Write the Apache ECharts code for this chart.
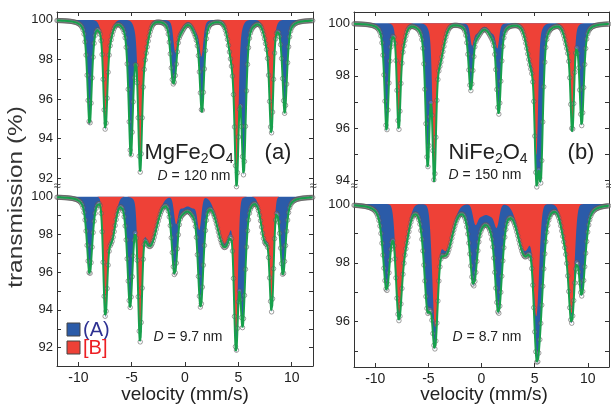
<!DOCTYPE html>
<html>
<head>
<meta charset="utf-8">
<script src="https://cdn.jsdelivr.net/npm/echarts@6/dist/echarts.min.js"></script>
<style>
  html, body { margin: 0; padding: 0; background: #ffffff; }
  #chart { width: 611px; height: 406px; }
</style>
</head>
<body>
<div id="chart"></div>
<script>
// Mössbauer spectra of ferrite samples: A-site and [B]-site sextets.
// A-site lines (pseudo-Voigt): [velocity mm/s, absorption depth %, FWHM mm/s]
// B-site lines (core + tail): [velocity, depth, FWHM, tail velocity, tail depth, tail FWHM]

// MgFe2O4, D = 120 nm
const mg120A = [[-8.94, 5.3, 0.50], [-5.08, 6.8, 0.50], [-1.18, 2.45, 0.50], [1.62, 2.9, 0.50], [5.50, 7.55, 0.50], [9.35, 4.7, 0.50]];
const mg120B = [[-7.47, 3.9, 0.38, -7.35, 1.6, 0.9], [-4.21, 5.4, 0.38, -4.00, 2.2, 1.0], [-0.92, 1.2, 0.38, -0.60, 0.6, 1.0],
                [1.55, 1.3, 0.38, 1.25, 0.7, 1.0], [4.84, 5.77, 0.38, 4.60, 2.4, 1.0], [8.10, 4.2, 0.38, 7.90, 1.6, 0.9]];

// NiFe2O4, D = 150 nm
const ni150A = [[-8.93, 4.1, 0.48], [-5.07, 5.29, 0.48], [-1.06, 1.95, 0.48], [1.66, 2.8, 0.48], [5.58, 5.56, 0.48], [9.43, 3.87, 0.48]];
const ni150B = [[-7.80, 3.0, 0.36, -7.60, 1.1, 0.8], [-4.45, 4.4, 0.36, -4.10, 1.6, 1.1], [-0.90, 0.6, 0.36, -0.50, 0.4, 1.0],
                [1.50, 0.7, 0.36, 1.10, 0.4, 1.0], [5.17, 3.84, 0.36, 4.80, 1.6, 1.1], [8.55, 3.08, 0.36, 8.30, 1.1, 0.9]];

// MgFe2O4, D = 9.7 nm
const mg97A = [[-8.94, 4.1, 0.60], [-5.15, 5.8, 0.60], [-1.05, 3.13, 0.60], [1.53, 4.6, 0.60], [5.40, 6.81, 0.60], [9.19, 4.14, 0.60]];
const mg97B = [[-7.48, 5.32, 0.42, -6.95, 2.3, 0.9], [-4.22, 6.46, 0.42, -3.30, 2.5, 1.5], [-0.85, 1.2, 0.42, -0.30, 0.6, 1.0],
               [1.35, 1.5, 0.42, 0.80, 0.6, 1.0], [4.78, 6.69, 0.42, 3.70, 2.5, 1.5], [8.13, 5.11, 0.42, 7.55, 2.3, 0.9]];

// NiFe2O4, D = 8.7 nm
const ni87A = [[-8.93, 2.92, 0.80], [-5.07, 3.51, 0.80], [-0.82, 2.25, 0.80], [1.66, 3.13, 0.80], [5.58, 2.95, 0.80], [9.43, 3.09, 0.80]];
const ni87B = [[-7.80, 2.98, 0.60, -7.30, 1.4, 1.0], [-4.38, 3.68, 0.60, -3.40, 1.6, 1.5], [-0.60, 0.5, 0.50, -0.10, 0.4, 1.0],
               [1.45, 0.6, 0.50, 0.95, 0.4, 1.0], [5.17, 3.42, 0.60, 4.10, 1.6, 1.5], [8.50, 3.03, 0.60, 8.00, 1.3, 1.0]];

// Axis ticks and labels
const xTickValues = [-10, -5, 0, 5, 10];
const yLabelsMg120 = [92, 94, 96, 98, 100];
const yLabelsNi150 = [94, 96, 98, 100];
const yLabelsMg97 = [92, 94, 96, 98, 100];
const yLabelsNi87 = [96, 98, 100];
const yTicksMg120 = [92, 93, 94, 95, 96, 97, 98, 99, 100];
const yTicksNi150 = [94, 95, 96, 97, 98, 99, 100];
const yTicksMg97 = [92, 93, 94, 95, 96, 97, 98, 99, 100];
const yTicksNi87 = [95, 96, 97, 98, 99, 100];

const BASELINE = 100;
const LORENTZ_SHARE = 0.6;
const BLUE = '#2b5ba8';
const RED = '#ee4137';
const GREEN = '#17a04c';
const AXIS = '#333333';
const FONT = 'Liberation Sans, Arial, Helvetica, sans-serif';

function lorentz(v, c, d, w) { const t = 2 * (v - c) / w; return d / (1 + t * t); }
function gauss(v, c, d, w) { const t = (v - c) / w; return d * Math.exp(-4 * Math.LN2 * t * t); }
function voigtLike(v, c, d, w) { return LORENTZ_SHARE * lorentz(v, c, d, w) + (1 - LORENTZ_SHARE) * gauss(v, c, d, w); }
function siteA(v, lines) { let s = 0; for (const l of lines) s += voigtLike(v, l[0], l[1], l[2]); return s; }
function siteB(v, lines) {
  let s = 0;
  for (const l of lines) s += gauss(v, l[0], l[1], l[2]) + gauss(v, l[3], l[4], l[5]);
  return s;
}

const panels = [
  { a: mg120A, b: mg120B, grid: { left: 57, top: 12, width: 256, height: 175 }, min: 91.56, max: 100.4, ticks: yTicksMg120, labels: yLabelsMg120, upper: true },
  { a: ni150A, b: ni150B, grid: { left: 354, top: 12, width: 255, height: 175 }, min: 93.76, max: 100.43, ticks: yTicksNi150, labels: yLabelsNi150, upper: true },
  { a: mg97A, b: mg97B, grid: { left: 57, top: 187, width: 256, height: 179 }, min: 91.03, max: 100.51, ticks: yTicksMg97, labels: yLabelsMg97, upper: false },
  { a: ni87A, b: ni87B, grid: { left: 354, top: 187, width: 255, height: 180 }, min: 94.46, max: 100.58, ticks: yTicksNi87, labels: yLabelsNi87, upper: false }
];

const grids = [], xAxes = [], yAxes = [], series = [];

// Filled band between the baseline and a curve, clamped to the axis range
function bandSeries(i, curve, color, z, lo, hi) {
  return {
    type: 'custom', xAxisIndex: i, yAxisIndex: 2 * i, silent: true, z: z,
    data: [[curve[0][0], BASELINE]],
    renderItem: function (params, api) {
      const pts = [];
      for (let k = 0; k < curve.length; k++) pts.push(api.coord([curve[k][0], BASELINE]));
      for (let k = curve.length - 1; k >= 0; k--) {
        const val = Math.min(hi, Math.max(lo, curve[k][1]));
        pts.push(api.coord([curve[k][0], val]));
      }
      return { type: 'polygon', shape: { points: pts }, style: { fill: color, stroke: null } };
    }
  };
}

panels.forEach((p, i) => {
  grids.push(p.grid);
  xAxes.push({
    gridIndex: i, type: 'value', min: -12, max: 12,
    position: p.upper ? 'top' : 'bottom',
    axisLine: { show: true, onZero: false, lineStyle: { color: AXIS, width: 1 } },
    axisTick: { show: true, inside: true, length: 4, customValues: xTickValues, lineStyle: { color: AXIS } },
    axisLabel: { show: !p.upper, customValues: xTickValues, color: '#222', fontSize: 14, fontFamily: FONT, margin: 5 },
    splitLine: { show: false }
  });
  yAxes.push({
    gridIndex: i, type: 'value', min: p.min, max: p.max, position: 'left',
    axisLine: { show: true, onZero: false, lineStyle: { color: AXIS, width: 1 } },
    axisTick: { show: true, inside: true, length: 4, customValues: p.ticks, lineStyle: { color: AXIS } },
    axisLabel: { show: true, customValues: p.labels, color: '#222', fontSize: 13, fontFamily: FONT, margin: 4 },
    splitLine: { show: false }
  });
  yAxes.push({
    gridIndex: i, type: 'value', min: p.min, max: p.max, position: 'right',
    axisLine: { show: true, onZero: false, lineStyle: { color: AXIS, width: 1 } },
    axisTick: { show: true, inside: true, length: 4, customValues: p.ticks, lineStyle: { color: AXIS } },
    axisLabel: { show: false },
    splitLine: { show: false }
  });

  // Fit curves on a fine velocity grid
  const total = [], bCurve = [];
  for (let k = 0; k <= 1200; k++) {
    const v = -12 + k * 0.02;
    const A = siteA(v, p.a), B = siteB(v, p.b);
    total.push([v, BASELINE - A - B]);
    bCurve.push([v, BASELINE - B]);
  }
  // Measured channels
  const points = [];
  for (let k = 0; k <= 255; k++) {
    const v = -12 + k * 0.094;
    points.push([v, BASELINE - siteA(v, p.a) - siteB(v, p.b)]);
  }

  series.push(bandSeries(i, total, BLUE, 1, p.min, p.max));
  series.push(bandSeries(i, bCurve, RED, 2, p.min, p.max));
  series.push({
    type: 'scatter', xAxisIndex: i, yAxisIndex: 2 * i, data: points, symbol: 'circle', symbolSize: 4.5, silent: true, z: 3,
    itemStyle: { color: 'rgba(255,255,255,0.2)', borderColor: '#555555', borderWidth: 0.7 }
  });
  series.push({
    type: 'line', xAxisIndex: i, yAxisIndex: 2 * i, data: total, symbol: 'none',
    lineStyle: { color: GREEN, width: 2 }, silent: true, z: 4
  });
});

function label(x, y, text, size, extra) {
  return {
    type: 'text', x: x, y: y, z: 100,
    style: Object.assign({ text: text, fill: '#222', font: size + 'px ' + FONT, textAlign: 'center', textVerticalAlign: 'middle' }, extra || {})
  };
}

const formulaRich = { s: { fontSize: 14, fontFamily: FONT, fill: '#222', verticalAlign: 'bottom', lineHeight: 26 }, m: { fontSize: 22, fontFamily: FONT, fill: '#222', lineHeight: 26 } };
const italicRich = { i: { fontStyle: 'italic', fontSize: 14, fontFamily: FONT, fill: '#222' }, n: { fontSize: 14, fontFamily: FONT, fill: '#222' } };

const graphics = [
  label(189, 153, '{m|MgFe}{s|2}{m|O}{s|4}', 22, { rich: formulaRich }),
  label(278, 153, '(a)', 22),
  label(194, 176, '{i|D}{n| = 120 nm}', 14, { rich: italicRich }),
  label(488, 153, '{m|NiFe}{s|2}{m|O}{s|4}', 22, { rich: formulaRich }),
  label(581, 153, '(b)', 22),
  label(485, 175, '{i|D}{n| = 150 nm}', 14, { rich: italicRich }),
  label(188, 337, '{i|D}{n| = 9.7 nm}', 14, { rich: italicRich }),
  label(487, 337, '{i|D}{n| = 8.7 nm}', 14, { rich: italicRich }),
  label(185, 395, 'velocity (mm/s)', 19),
  label(484, 395, 'velocity (mm/s)', 19),
  { type: 'text', x: 16, y: 197, rotation: Math.PI / 2, scaleX: 1.22, z: 100,
    style: { text: 'transmission (%)', fill: '#333', font: '20px ' + FONT, textAlign: 'center', textVerticalAlign: 'middle' } },
  // legend swatches
  { type: 'rect', shape: { x: 67, y: 323, width: 13, height: 13 }, z: 100, style: { fill: BLUE, stroke: '#444', lineWidth: 1 } },
  { type: 'rect', shape: { x: 67, y: 341, width: 13, height: 13 }, z: 100, style: { fill: RED, stroke: '#444', lineWidth: 1 } },
  label(83, 330, '(A)', 20, { fill: '#2e3192', textAlign: 'left' }),
  label(83, 348, '[B]', 20, { fill: '#ed2024', textAlign: 'left' })
];
// axis break marks
[57, 313, 354, 609].forEach(x => graphics.push(label(x, 186, '≈', 13, { fill: '#444' })));

const chart = echarts.init(document.getElementById('chart'), null, { renderer: 'canvas' });
chart.setOption({
  animation: false,
  backgroundColor: '#ffffff',
  grid: grids,
  xAxis: xAxes,
  yAxis: yAxes,
  series: series,
  graphic: graphics
});
</script>
</body>
</html>
